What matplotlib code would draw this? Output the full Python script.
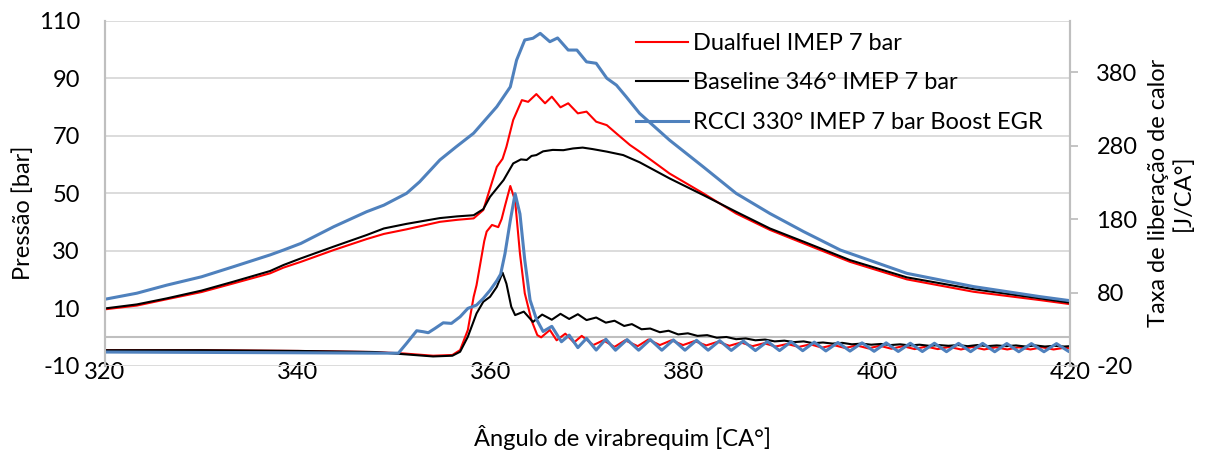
import matplotlib
matplotlib.use("Agg")
import matplotlib.pyplot as plt

plt.rcParams['font.family'] = ['Lato', 'DejaVu Sans']
plt.rcParams['axes.unicode_minus'] = False

# --- pressao [bar] (eixo esquerdo)
ca_dual_p = [320, 323.3, 326.4, 330, 333.3, 337.1, 338.5, 340.3, 343.7, 347.1, 348.9, 351.25, 354.7,
             356.5, 358.2, 359.2, 360.6, 361.2,
             361.6, 362.3, 363.2, 363.85, 364.7, 365.6, 366.3, 367.2, 368, 369, 369.9, 370.9, 372,
             373, 374.4, 375.4, 378.5, 382, 385.4, 388.9, 392.4, 397.2, 403.1, 410, 416.9, 420]
p_dual = [9.7, 11.0, 13.2, 15.7, 18.7, 22.2, 24.2, 26.2, 30.3, 34.1, 35.9, 37.5, 40.1,
          40.8, 41.3, 44.2, 59.2, 62.0,
          66.2, 75.5, 82.4, 81.8, 84.5, 81.3, 83.6, 79.9, 81.3, 77.8, 78.4, 74.9, 73.7,
          70.8, 66.8, 64.5, 56.9, 50.0, 43.0, 37.3, 32.6, 26.2, 20.1, 15.8, 12.9, 11.5]

ca_base_p = [320, 323.3, 326.4, 330, 333.3, 337.1, 338.5, 340.3, 343.7, 347.1, 348.9, 351.25, 354.7,
             356.5, 358.2, 359.2, 359.9, 361.3,
             362.3, 363.1, 363.7, 364.2, 364.7, 365.4, 366.4, 367.5, 368.5, 369.5, 370.5, 372,
             373.7, 375.4, 378.5, 382, 385.4, 388.9, 392.4, 397.2, 403.1, 410, 416.9, 420]
p_base = [10.0, 11.4, 13.5, 16.2, 19.3, 23.0, 25.1, 27.4, 31.5, 35.5, 37.8, 39.4, 41.4,
          42.0, 42.4, 44.5, 48.8, 54.6,
          60.4, 61.8, 61.6, 63.0, 63.3, 64.6, 65.1, 65.0, 65.6, 65.9, 65.4, 64.5,
          63.3, 60.8, 55.2, 49.4, 43.6, 37.8, 33.2, 26.8, 20.8, 16.7, 13.5, 12.0]

ca_rcci_p = [320, 323.3, 326.4, 330, 333.3, 337.1, 338.5, 340.3, 343.7, 347.1, 348.9, 351.25,
             352.6, 354.7, 356.4, 358.2, 360.6,
             362.0, 362.65, 363.5, 364.35, 365.1, 366.1, 366.9, 368.0, 368.9, 369.9, 370.9, 372,
             373, 374, 375.4, 378.5, 382, 385.4, 388.9, 392.4, 396.2, 403.1, 410, 416.9, 420]
p_rcci = [13.2, 15.3, 18.1, 21.0, 24.5, 28.6, 30.3, 32.6, 38.4, 43.6, 45.9, 50.0,
          54.0, 61.6, 66.2, 70.9, 80.1,
          87.0, 96.3, 103.3, 103.9, 105.6, 102.7, 104.0, 99.8, 99.8, 95.7, 95.2, 90.0,
          87.6, 83.6, 77.8, 68.5, 59.2, 50.0, 43.0, 36.7, 30.3, 22.2, 17.6, 14.1, 12.7]

# --- taxa de liberacao de calor [J/CA] (eixo direito)
ca_dual_h = [320, 330, 340, 348, 351, 354, 356, 356.8, 357.6, 358.2, 358.5, 358.9, 359.3, 359.55,
             360.1, 360.75, 361.1, 361.45, 362.0, 362.5, 363.0, 363.5, 364.2, 364.8, 365.2, 366.1,
             366.8, 367.7, 368.6, 369.4, 370.6, 371.65, 372.8, 373.9, 375.2, 376.3, 377.5, 378.7,
             379.9, 381.1, 382.3, 383.5, 384.7, 385.9, 387.1, 388.3, 389.5, 390.7, 391.9, 393.1,
             394.3, 395.5, 396.7, 397.9, 399.1, 400.3, 401.5, 402.7, 403.9, 405.1, 406.3, 407.5,
             408.7, 409.9, 411.1, 412.3, 413.5, 414.7, 415.9, 417.1, 418.3, 419.5, 420]
h_dual = [1.5, 1.5, 0.5, -1, -3, -6, -5, 1.7, 29, 74, 90, 120, 150, 163,
          172, 169, 180, 198, 225, 205, 133, 79, 42, 22, 19, 29,
          15, 24, 12, 21, 8.5, 15, 6, 15, 7, 16, 8.5, 15,
          8.5, 14, 8, 13, 7.5, 12, 7, 11, 6.5, 10, 6, 9.5,
          5, 8.5, 4.5, 8, 4, 7.5, 3.5, 7, 3, 6.5, 3, 6,
          2.5, 6, 2.5, 5.5, 2.5, 5.5, 2.5, 5.5, 2.5, 5, 4]

ca_base_h = [320, 330, 340, 348, 351, 354, 356, 356.8, 357.6, 358.5, 359.2, 359.9, 360.6, 361.2,
             361.6, 362.1, 362.5, 363.4, 364.35, 365.3, 366.3, 367.2, 368.1, 369.0, 369.9, 370.9,
             371.9, 372.8, 373.8, 374.6, 375.6, 376.5, 377.5, 378.4, 379.4, 380.4, 381.4, 382.4,
             383.4, 384.4, 385.4, 386.4, 387.4, 388.4, 389.4, 390.4, 391.4, 392.4, 393.4, 394.4,
             395.4, 396.4, 397.4, 398.4, 399.4, 400.4, 401.4, 402.4, 403.4, 404.4, 405.4, 406.4,
             407.4, 408.4, 409.4, 410.4, 411.4, 412.4, 413.4, 414.4, 415.4, 416.4, 417.4, 418.4,
             419.4, 420]
h_base = [1.5, 1.5, 0.5, -1, -4, -7, -6, -0.6, 19.8, 51.5, 67.4, 74.2, 87.7, 107,
          92, 60.6, 49.3, 54, 40, 50, 43, 51, 44, 50.5, 42.5, 46,
          39, 41.6, 34.5, 37, 30, 31, 26, 28, 23, 24.5, 21, 22,
          18.5, 19.5, 16.5, 17.5, 15, 16, 13.5, 14.5, 12.5, 13.5, 11, 12,
          10.5, 11.5, 9.5, 10.5, 9, 10, 8.5, 9.5, 8, 9, 7.5, 8.5,
          7.5, 8.5, 7, 8.5, 7, 8, 7, 8, 6.5, 8, 6.5, 7.5,
          6.5, 7]

ca_rcci_h = [320, 330, 340, 348, 350.4, 351.25, 352.3, 353.0, 353.5, 354.2, 355.05, 355.9,
             356.8, 357.6, 358.5, 359.2, 359.9, 360.6, 361.0, 361.45, 362.0, 362.5, 363.0, 363.5,
             364.05, 364.7, 365.4, 366.3, 367.3, 368.1, 369.0, 369.9, 370.9, 371.9, 372.9, 374.1,
             375.3, 376.5, 377.7, 378.9, 380.1, 381.3, 382.5, 383.7, 384.9, 386.15, 387.4, 388.65,
             389.9, 391.1, 392.3, 393.5, 394.7, 395.95, 397.2, 398.45, 399.7, 400.95, 402.2, 403.45,
             404.7, 405.95, 407.2, 408.45, 409.7, 410.95, 412.2, 413.45, 414.7, 416.0, 417.3, 418.6,
             419.9, 420]
h_rcci = [-1, -1.5, -2, -2.5, -2.5, 10.8, 28, 26.6, 25.3, 31.2, 38.8, 38,
          47, 58.4, 62.9, 72, 83, 96, 105, 133, 178, 214.6, 187, 124,
          69.7, 44, 27, 34, 13, 22, 5, 17.6, 1.7, 16.5, 1.5, 16,
          1.5, 16, 1.5, 15.5, 1.5, 15, 1.5, 14.5, 1.2, 14, 1.0, 13.5,
          1.0, 13, 0.8, 12.5, 0.5, 12, 0.3, 11.5, 0, 11.5, -0.2, 11,
          -0.3, 11, -0.5, 10.8, -0.5, 10.8, -0.6, 10.6, -0.6, 10.5, -0.6, 10.5,
          -0.5, 1]

labels = ["Dualfuel IMEP 7 bar", "Baseline 346° IMEP 7 bar", "RCCI 330° IMEP 7 bar Boost EGR"]
cores = ["#ff0000", "#000000", "#4f81bd"]

fig = plt.figure(figsize=(12.12, 4.51), dpi=100)
ax = fig.add_axes([105 / 1212, 1 - 366 / 451, (1070 - 105) / 1212, (366 - 20.7) / 451])
ax2 = ax.twinx()

grid_c = "#d9d9d9"
axis_c = "#bfbfbf"

ax.set_xlim(320, 420)
ax.set_ylim(-10, 110)
ax2.set_ylim(-20, 450)
ax.set_yticks([-10, 10, 30, 50, 70, 90, 110])
ax.set_xticks([320, 340, 360, 380, 400, 420])
ax2.set_yticks([-20, 80, 180, 280, 380])
ax.grid(axis="y", color=grid_c, lw=1.3)
ax.axhline(0, color=axis_c, lw=1.5, zorder=1)

for a in (ax, ax2):
    for s in ("top", "bottom"):
        a.spines[s].set_visible(False)
    a.spines["left"].set_color(axis_c)
    a.spines["right"].set_color(axis_c)
    a.spines["left"].set_linewidth(1.5)
    a.spines["right"].set_linewidth(1.5)

fs = 17
ax.tick_params(axis="y", length=0, pad=18, labelsize=fs)
ax.tick_params(axis="x", length=0, pad=-3, labelsize=fs)
ax2.tick_params(axis="y", length=6, width=1.3, color=axis_c, pad=13, labelsize=fs)

l1, = ax.plot(ca_dual_p, p_dual, color=cores[0], lw=1.5)
l2, = ax.plot(ca_base_p, p_base, color=cores[1], lw=1.5)
l3, = ax.plot(ca_rcci_p, p_rcci, color=cores[2], lw=2.2)

ax2.plot(ca_dual_h, h_dual, color=cores[0], lw=1.5)
ax2.plot(ca_base_h, h_base, color=cores[1], lw=1.5)
ax2.plot(ca_rcci_h, h_rcci, color=cores[2], lw=2.2)

ax2.legend([l1, l2, l3], labels, loc="upper left", bbox_to_anchor=(636 / 1212, 1 - 33 / 451),
           bbox_transform=fig.transFigure, frameon=False, fontsize=fs, borderpad=0,
           handlelength=2.2, handletextpad=0.22, labelspacing=0.78, borderaxespad=0)

fig.text(23 / 1212, 1 - 213 / 451, "Pressão [bar]", rotation=90, ha="center", va="center", fontsize=fs)
fig.text(1171 / 1212, 1 - 193 / 451, "Taxa de liberação de calor\n[J/CA°]", rotation=90,
         ha="center", va="center", multialignment="center", fontsize=fs, linespacing=1.2)
fig.text(623 / 1212, 1 - 437 / 451, "Ângulo de virabrequim [CA°]", ha="center", va="center", fontsize=fs)

fig.savefig("out.png", dpi=100)
